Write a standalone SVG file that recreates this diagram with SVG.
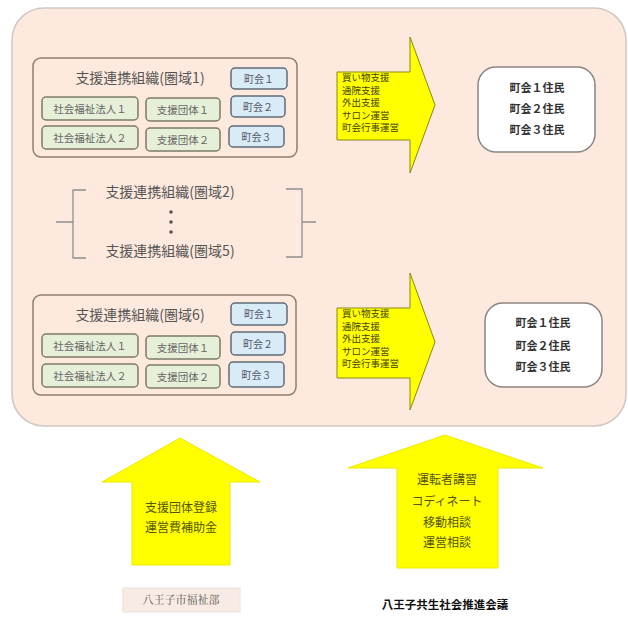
<svg xmlns="http://www.w3.org/2000/svg" width="628" height="617" viewBox="0 0 628 617">
<style>
text{font-family:"Noto Sans CJK JP","Noto Sans CJK SC",sans-serif;}
.org{fill:none;stroke:#8c7f72;stroke-width:1.5;}
.gbox{fill:#e6efd8;stroke:#7d7a68;stroke-width:1.5;}
.bbox{fill:#d9ebf6;stroke:#5f6b78;stroke-width:1.5;}
.t14{font-size:14px;fill:#555;text-anchor:middle;}
.t11{font-size:10.5px;fill:#666;text-anchor:middle;}
.t10{font-size:10px;fill:#556;text-anchor:middle;}
.arr{fill:#ffff00;stroke:#8a8a10;stroke-width:1;}
.at{font-size:9.5px;fill:#444400;}
.res{fill:#fff;stroke:#8a8580;stroke-width:1.5;}
.rt{font-size:11px;fill:#333;font-weight:bold;text-anchor:middle;}
.up{fill:#ffff00;stroke:#f0e800;stroke-width:1;}
.ut{font-size:12px;fill:#555500;text-anchor:middle;}
.br{fill:none;stroke:#8f8f8f;stroke-width:1.3;}
</style>
<rect x="12" y="8" width="614" height="418" rx="32" fill="#fde9dd" stroke="#cfc8c4" stroke-width="1.5"/>

<g id="org1">
<rect class="org" x="33" y="58" width="264" height="99" rx="8"/>
<text class="t14" x="140" y="83">支援連携組織(圏域1)</text>
<g id="org1-sf1"><rect class="gbox" x="42" y="97" width="96" height="23" rx="4"/><text class="t11" x="90" y="112.5">社会福祉法人１</text></g>
<g id="org1-sf2"><rect class="gbox" x="42" y="126" width="96" height="23" rx="4"/><text class="t11" x="90" y="141.5">社会福祉法人２</text></g>
<g id="org1-sd1"><rect class="gbox" x="146" y="98" width="74" height="23" rx="4"/><text class="t11" x="183" y="113.5">支援団体１</text></g>
<g id="org1-sd2"><rect class="gbox" x="146" y="128" width="74" height="23" rx="4"/><text class="t11" x="183" y="143.5">支援団体２</text></g>
<g id="org1-c1"><rect class="bbox" x="231" y="68" width="56" height="21" rx="4"/><text class="t10" x="259" y="82.5">町会１</text></g>
<g id="org1-c2"><rect class="bbox" x="231" y="96" width="54" height="21" rx="4"/><text class="t10" x="258" y="110.5">町会２</text></g>
<g id="org1-c3"><rect class="bbox" x="229" y="126" width="55" height="21" rx="4"/><text class="t10" x="256.5" y="140.5">町会３</text></g>
</g>

<g id="orgs2to5">
<path class="br" d="M86 190 H73 V258 H86 M73 222 H56"/>
<path class="br" d="M286 189 H302 V257 H286 M302 222 H316"/>
<text class="t14" x="170" y="197">支援連携組織(圏域2)</text>
<circle cx="171" cy="212" r="1.8" fill="#555"/>
<circle cx="171" cy="222" r="1.8" fill="#555"/>
<circle cx="171" cy="232" r="1.8" fill="#555"/>
<text class="t14" x="170" y="256">支援連携組織(圏域5)</text>
</g>

<g id="org6">
<rect class="org" x="33" y="295" width="263" height="100" rx="8"/>
<text class="t14" x="140" y="320">支援連携組織(圏域6)</text>
<g id="org6-sf1"><rect class="gbox" x="42" y="334" width="96" height="23" rx="4"/><text class="t11" x="90" y="349.5">社会福祉法人１</text></g>
<g id="org6-sf2"><rect class="gbox" x="42" y="364" width="96" height="23" rx="4"/><text class="t11" x="90" y="379.5">社会福祉法人２</text></g>
<g id="org6-sd1"><rect class="gbox" x="146" y="336" width="74" height="23" rx="4"/><text class="t11" x="183" y="351.5">支援団体１</text></g>
<g id="org6-sd2"><rect class="gbox" x="146" y="365" width="74" height="23" rx="4"/><text class="t11" x="183" y="380.5">支援団体２</text></g>
<g id="org6-c1"><rect class="bbox" x="231" y="303" width="56" height="22" rx="4"/><text class="t10" x="259" y="318">町会１</text></g>
<g id="org6-c2"><rect class="bbox" x="231" y="332" width="54" height="23" rx="4"/><text class="t10" x="258" y="347.5">町会２</text></g>
<g id="org6-c3"><rect class="bbox" x="229" y="362" width="55" height="25" rx="4"/><text class="t10" x="256.5" y="378.5">町会３</text></g>
</g>

<g id="connectors">
<g id="arrow1">
<path class="arr" d="M337 72 H410 V37 L435 105 L410 173 V140 H337 Z"/>
<text class="at" x="342" y="81">買い物支援</text>
<text class="at" x="342" y="93.5">通院支援</text>
<text class="at" x="342" y="106">外出支援</text>
<text class="at" x="342" y="118.5">サロン運営</text>
<text class="at" x="342" y="131">町会行事運営</text>
</g>
<g id="arrow2">
<path class="arr" d="M337 308 H410 V273 L435 342 L410 410 V378 H337 Z"/>
<text class="at" x="342" y="317">買い物支援</text>
<text class="at" x="342" y="329.5">通院支援</text>
<text class="at" x="342" y="342">外出支援</text>
<text class="at" x="342" y="354.5">サロン運営</text>
<text class="at" x="342" y="367">町会行事運営</text>
</g>
<g id="uparrow1">
<path class="up" d="M180 438 L260 482 H230 V565 H132 V482 H102 Z"/>
<text class="ut" x="181" y="512">支援団体登録</text>
<text class="ut" x="181" y="532">運営費補助金</text>
</g>
<g id="uparrow2">
<path class="up" d="M445 435 L543 468 H498 V568 H397 V468 H348 Z"/>
<text class="ut" x="447" y="484">運転者講習</text>
<text class="ut" x="447" y="506">コディネート</text>
<text class="ut" x="447" y="527">移動相談</text>
<text class="ut" x="447" y="547">運営相談</text>
</g>
</g>

<g id="residents1">
<rect class="res" x="478" y="67" width="117" height="85" rx="18"/>
<text class="rt" x="537" y="92">町会１住民</text>
<text class="rt" x="537" y="113">町会２住民</text>
<text class="rt" x="537" y="134">町会３住民</text>
</g>
<g id="residents2">
<rect class="res" x="485" y="303" width="117" height="84" rx="18"/>
<text class="rt" x="543" y="327">町会１住民</text>
<text class="rt" x="543" y="350">町会２住民</text>
<text class="rt" x="543" y="371">町会３住民</text>
</g>

<g id="label-fukushibu">
<rect x="123" y="588" width="117" height="24" fill="#f8ebe4" stroke="#eee2da" stroke-width="1"/>
<text x="181" y="604" font-size="11" fill="#555" text-anchor="middle" style="font-family:'Noto Serif CJK JP','Liberation Serif','Noto Sans CJK JP',serif">八王子市福祉部</text>
</g>
<g id="label-kaigi">
<text x="445" y="609" font-size="11.5" font-weight="bold" fill="#111" text-anchor="middle">八王子共生社会推進会議</text>
</g>
</svg>
